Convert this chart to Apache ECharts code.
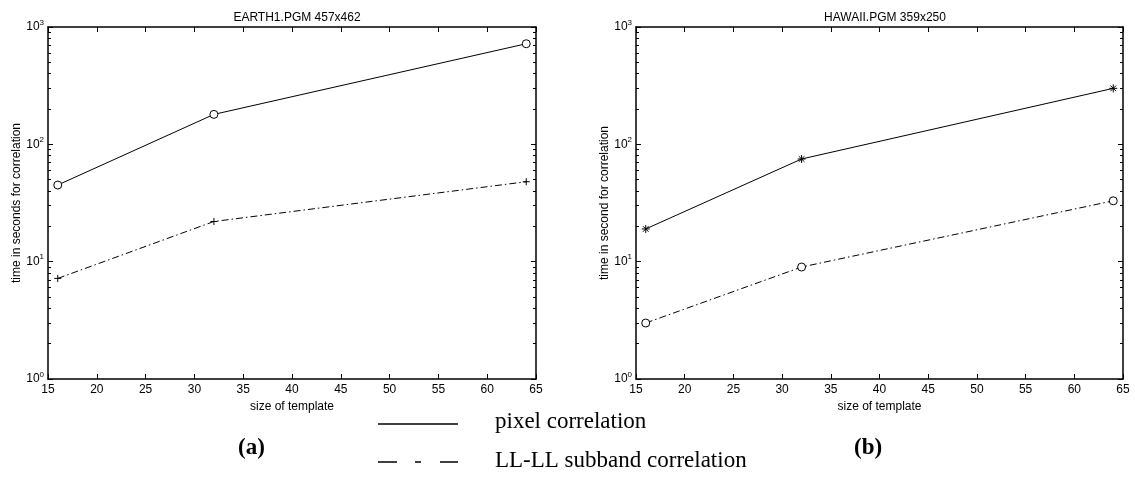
<!DOCTYPE html>
<html>
<head>
<meta charset="utf-8">
<script src="https://cdn.jsdelivr.net/npm/echarts@6/dist/echarts.min.js"></script>
<style>
  html, body { margin: 0; padding: 0; background: #fff; }
  #chart { width: 1135px; height: 483px; }
</style>
</head>
<body>
<div id="chart"></div>
<script>
// template sizes (x) and timings
const templateSize = [16, 32, 64]
const earthPixel = [45, 180, 720]
const earthSubband = [7.2, 22, 48]
const hawaiiPixel = [19, 75, 300]
const hawaiiSubband = [3, 9, 33]
const titles = ['EARTH1.PGM 457x462', 'HAWAII.PGM 359x250']
const yNames = ['time in seconds for correlation', 'time in second for correlation']
const majorTicks = [1, 10, 100, 1000]
const minorTicks = [2, 3, 4, 5, 6, 7, 8, 9, 20, 30, 40, 50, 60, 70, 80, 90, 200, 300, 400, 500, 600, 700, 800, 900]

const font = 'Liberation Sans, Arial, Helvetica, sans-serif'
const serif = 'Liberation Serif, Times New Roman, serif'

const plusIcon = 'path://M5,0L5,10M0,5L10,5'
const starIcon = 'path://M5,0L5,10M0,5L10,5M1.5,1.5L8.5,8.5M8.5,1.5L1.5,8.5'

function xAxes(grid) {
  let base = {
    type: 'value', gridIndex: grid, min: 15, max: 65, interval: 5,
    axisLine: { lineStyle: { color: '#000', width: 1.5 } },
    axisTick: { inside: true, length: 5, lineStyle: { color: '#000' } },
    splitLine: { show: false }
  }
  return [
    Object.assign({}, base, {
      position: 'bottom',
      name: 'size of template', nameLocation: 'middle', nameGap: 18,
      nameTextStyle: { fontFamily: font, fontSize: 12, color: '#000' },
      axisLabel: { fontFamily: font, fontSize: 12, color: '#000', margin: 5 }
    }),
    Object.assign({}, base, { position: 'top', axisLabel: { show: false } })
  ]
}

function yAxes(grid) {
  let base = {
    type: 'log', logBase: 10, gridIndex: grid, min: 1, max: 1000,
    splitLine: { show: false }, axisLabel: { show: false }
  }
  let list = []
  ;['left', 'right'].forEach(pos => {
    let major = Object.assign({}, base, {
      position: pos,
      axisLine: { show: true, lineStyle: { color: '#000', width: 1.5 } },
      axisTick: { inside: true, length: 5, customValues: majorTicks, lineStyle: { color: '#000' } }
    })
    if (pos === 'left') {
      major.name = yNames[grid]
      major.nameLocation = 'middle'
      major.nameGap = 25
      major.nameTextStyle = { fontFamily: font, fontSize: 12, color: '#000' }
      major.axisLabel = {
        show: true, customValues: majorTicks, margin: 4,
        formatter: v => '{b|10}{s|' + Math.round(Math.log10(v)) + '}',
        rich: {
          b: { fontFamily: font, fontSize: 12, color: '#000' },
          s: { fontFamily: font, fontSize: 8, color: '#000', padding: [0, 0, 9, 0] }
        }
      }
    }
    let minor = Object.assign({}, base, {
      position: pos,
      axisLine: { show: false },
      axisTick: { inside: true, length: 3, customValues: minorTicks, lineStyle: { color: '#000' } }
    })
    list.push(major, minor)
  })
  return list
}

function lineSeries(data, xi, yi, symbol, size, dashed) {
  return {
    type: 'line',
    xAxisIndex: xi,
    yAxisIndex: yi,
    data: templateSize.map((x, i) => [x, data[i]]),
    symbol: symbol,
    symbolSize: size,
    showAllSymbol: true,
    lineStyle: { color: '#000', width: 1, type: dashed ? [7, 3, 1.5, 3] : 'solid' },
    itemStyle: { color: symbol === 'circle' ? '#fff' : '#000', borderColor: '#000', borderWidth: 1 },
    emphasis: { disabled: true },
    animation: false
  }
}

let myChart = echarts.init(document.getElementById('chart'))
let options = {
  animation: false,
  title: [
    { text: titles[0], left: 292, top: 7, textAlign: 'center',
      textStyle: { fontFamily: font, fontSize: 12, fontWeight: 'normal', color: '#000' } },
    { text: titles[1], left: 880, top: 7, textAlign: 'center',
      textStyle: { fontFamily: font, fontSize: 12, fontWeight: 'normal', color: '#000' } }
  ],
  grid: [
    { left: 48, top: 27, width: 488, height: 352 },
    { left: 636, top: 27, width: 487, height: 352 }
  ],
  xAxis: xAxes(0).concat(xAxes(1)),
  yAxis: yAxes(0).concat(yAxes(1)),
  series: [
    lineSeries(earthPixel, 0, 0, 'circle', 8, false),
    lineSeries(earthSubband, 0, 0, plusIcon, 7, true),
    lineSeries(hawaiiPixel, 2, 4, starIcon, 8, false),
    lineSeries(hawaiiSubband, 2, 4, 'circle', 8, true)
  ],
  graphic: [
    { type: 'line', shape: { x1: 378, y1: 424, x2: 458, y2: 424 }, style: { stroke: '#000', lineWidth: 1.5 } },
    { type: 'line', shape: { x1: 378, y1: 462, x2: 397, y2: 462 }, style: { stroke: '#000', lineWidth: 1.5 } },
    { type: 'line', shape: { x1: 415, y1: 462, x2: 421, y2: 462 }, style: { stroke: '#000', lineWidth: 1.5 } },
    { type: 'line', shape: { x1: 440, y1: 462, x2: 458, y2: 462 }, style: { stroke: '#000', lineWidth: 1.5 } },
    { type: 'text', left: 495, top: 410,
      style: { text: 'pixel correlation', font: '23px ' + serif, fill: '#000' } },
    { type: 'text', left: 495, top: 449,
      style: { text: 'LL-LL subband correlation', font: '23px ' + serif, fill: '#000' } },
    { type: 'text', left: 238, top: 437,
      style: { text: '(a)', font: 'bold 23px ' + serif, fill: '#000' } },
    { type: 'text', left: 854, top: 437,
      style: { text: '(b)', font: 'bold 23px ' + serif, fill: '#000' } }
  ]
}
myChart.setOption(options)
</script>
</body>
</html>
